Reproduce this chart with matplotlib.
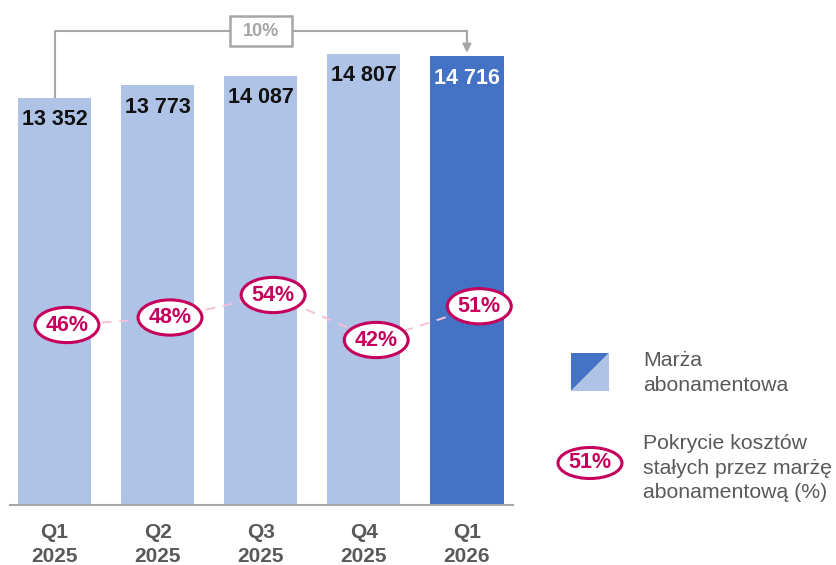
import matplotlib
matplotlib.use("Agg")
import matplotlib.pyplot as plt
from matplotlib.patches import Ellipse, Rectangle, Polygon

plt.rcParams['font.family'] = ['Liberation Sans', 'DejaVu Sans']

quarters = ['Q1\n2025', 'Q2\n2025', 'Q3\n2025', 'Q4\n2025', 'Q1\n2026']
margin = [13352, 13773, 14087, 14807, 14716]
coverage = [46, 48, 54, 42, 51]
growth_label = '10%'

light_blue = '#AEC3E6'
dark_blue = '#4472C4'
crimson = '#C4005C'
pink = '#F6C0D8'
gray_txt = '#595959'
gray_line = '#A6A6A6'

W, H = 837, 565
fig = plt.figure(figsize=(W / 100, H / 100), dpi=100)
ax = fig.add_axes([10 / W, 60 / H, 503 / W, 505 / H])

x = list(range(len(quarters)))
colors = [light_blue] * (len(x) - 1) + [dark_blue]
ax.bar(x, margin, width=0.71, color=colors, zorder=2)
ax.set_xlim(-0.432, 4.447)
ax.set_ylim(0, 16568)

for i, v in enumerate(margin):
    label = f"{v:,}".replace(',', ' ')
    ax.text(i, v - 720, label, ha='center', va='center', fontsize=15.5,
            fontweight='bold', color='white' if i == len(x) - 1 else '#111111', zorder=3)

# growth bracket
top_y = 15550
ax.plot([0, 0, 4, 4], [margin[0], top_y, top_y, top_y], color=gray_line, lw=1.5, zorder=1,
        clip_on=False)
ax.annotate('', xy=(4, margin[4] + 120), xytext=(4, top_y + 10),
            arrowprops=dict(arrowstyle='-|>,head_width=0.25,head_length=0.5',
                            color=gray_line, lw=1.5, shrinkA=0, shrinkB=0))
ax.add_patch(Rectangle((2 - 0.30, top_y - 15 / 0.03048), 0.60, 30 / 0.03048,
                       facecolor='white', edgecolor=gray_line, lw=1.8, zorder=4, clip_on=False))
ax.text(2, top_y, growth_label, ha='center', va='center', fontsize=13, fontweight='bold',
        color=gray_line, zorder=5)

ax.spines[['top', 'right', 'left']].set_visible(False)
ax.spines['bottom'].set_color(gray_line)
ax.spines['bottom'].set_linewidth(1.5)
ax.set_yticks([])
ax.set_xticks(x)
ax.set_xticklabels(quarters, fontsize=15, fontweight='bold', color=gray_txt, linespacing=1.3)
ax.tick_params(axis='x', length=0, pad=13)

# coverage line
ax2 = ax.twinx()
ax2.set_ylim(-2, 132.67)
ax2.set_axis_off()
xo = [i + 0.12 for i in x]
ax2.plot(xo, coverage, color=pink, lw=1.4, ls=(0, (5, 4)), zorder=1)
for xi, p in zip(xo, coverage):
    ax2.add_patch(Ellipse((xi, p), 0.62, 9.4, facecolor='white', edgecolor=crimson,
                          lw=2.2, zorder=3))
    ax2.text(xi, p, f"{p}%", ha='center', va='center', fontsize=15.5, fontweight='bold',
             color=crimson, zorder=4)

# legend
sx0, sx1 = 571 / W, 609 / W
sy0, sy1 = 1 - 391 / H, 1 - 353 / H
fig.patches.append(Polygon([(sx0, sy0), (sx0, sy1), (sx1, sy1)], closed=True,
                           facecolor=dark_blue, transform=fig.transFigure))
fig.patches.append(Polygon([(sx0, sy0), (sx1, sy0), (sx1, sy1)], closed=True,
                           facecolor=light_blue, transform=fig.transFigure))
fig.text(643 / W, 1 - 373 / H, 'Marża\nabonamentowa', ha='left', va='center',
         fontsize=15.3, color=gray_txt, linespacing=1.38)

fig.patches.append(Ellipse((590 / W, 1 - 463 / H), 64 / W, 31 / H, facecolor='white',
                           edgecolor=crimson, lw=2.2, transform=fig.transFigure))
fig.text(590 / W, 1 - 463 / H, '51%', ha='center', va='center', fontsize=15.5,
         fontweight='bold', color=crimson)
fig.text(643 / W, 1 - 468 / H, 'Pokrycie kosztów\nstałych przez marżę\nabonamentową (%)',
         ha='left', va='center', fontsize=15.3, color=gray_txt, linespacing=1.38)

fig.savefig('out.png', dpi=100)
